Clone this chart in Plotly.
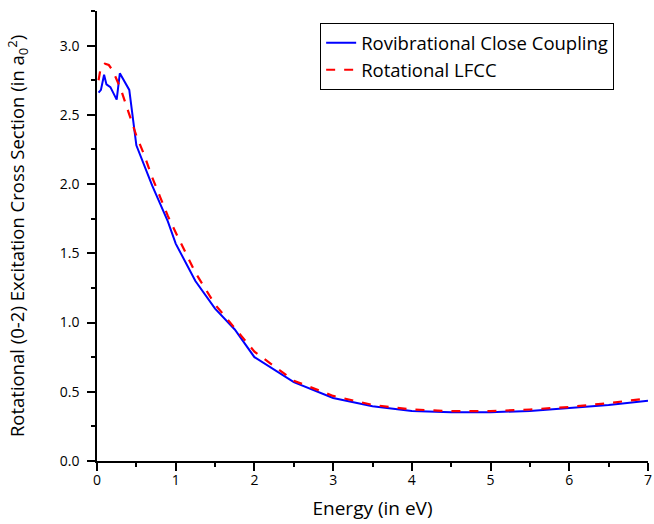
import plotly.graph_objects as go

# Rovibrational close coupling (blue solid)
cc_energy = [0.02, 0.05, 0.09, 0.12, 0.17, 0.25, 0.29, 0.41, 0.5, 0.6, 0.7, 0.8, 0.9, 1.0,
             1.25, 1.5, 1.75, 2.0, 2.5, 3.0, 3.5, 4.0, 4.5, 5.0, 5.5, 6.0, 6.5, 7.0]
cc_sigma = [2.66, 2.68, 2.79, 2.72, 2.70, 2.61, 2.80, 2.68, 2.28, 2.13, 1.99, 1.86, 1.73, 1.57,
            1.30, 1.10, 0.95, 0.75, 0.57, 0.455, 0.395, 0.362, 0.352, 0.352, 0.362, 0.382, 0.405, 0.435]

# Rotational LFCC (red dashed)
lfcc_energy = [0.02, 0.05, 0.1, 0.15, 0.2, 0.25, 0.3, 0.4, 0.5, 0.6, 0.7, 0.8, 0.9, 1.0,
               1.25, 1.5, 1.75, 2.0, 2.5, 3.0, 3.5, 4.0, 4.5, 5.0, 5.5, 6.0, 6.5, 7.0]
lfcc_sigma = [2.75, 2.85, 2.87, 2.86, 2.82, 2.76, 2.69, 2.52, 2.35, 2.21, 2.05, 1.91, 1.77, 1.65,
              1.36, 1.13, 0.96, 0.79, 0.58, 0.47, 0.405, 0.372, 0.36, 0.36, 0.372, 0.39, 0.418, 0.452]

FONT = "Open Sans"

fig = go.Figure()
fig.add_trace(go.Scatter(x=cc_energy, y=cc_sigma, mode="lines",
                         name="Rovibrational Close Coupling",
                         line=dict(color="#0000ff", width=2)))
fig.add_trace(go.Scatter(x=lfcc_energy, y=lfcc_sigma, mode="lines",
                         name="Rotational LFCC",
                         line=dict(color="#ff0000", width=2.2, dash="dash")))

axis_common = dict(showline=True, linecolor="black", linewidth=1.5, ticks="outside",
                   tickcolor="black", ticklen=8, tickwidth=1.5, showgrid=False, zeroline=False,
                   tickfont=dict(family=FONT, size=14, color="black"), mirror=False,
                   automargin=False, ticklabeloverflow="allow")

fig.update_layout(
    width=654, height=524,
    margin=dict(l=97, r=6, t=11, b=63),
    paper_bgcolor="white", plot_bgcolor="white",
    font=dict(family=FONT, color="black"),
    xaxis=dict(range=[0, 7], dtick=1, tick0=0, ticklabelstandoff=-3,
               minor=dict(dtick=0.5, ticks="outside", ticklen=4, tickcolor="black", tickwidth=1.5),
               title=dict(text="Energy (in eV)", font=dict(family=FONT, size=19), standoff=14),
               **axis_common),
    yaxis=dict(range=[0, 3.25], dtick=0.5, tick0=0, tickformat=".1f", ticklabelstandoff=5,
               minor=dict(dtick=0.25, ticks="outside", ticklen=4, tickcolor="black", tickwidth=1.5),
               title=dict(text="Rotational (0-2) Excitation Cross Section (in a<sub>0</sub><sup>2</sup>)",
                          font=dict(family=FONT, size=18.5), standoff=30),
               **axis_common),
    legend=dict(x=0.405, y=0.973, xanchor="left", yanchor="top",
                bordercolor="black", borderwidth=1, bgcolor="white",
                font=dict(family=FONT, size=18.5), tracegroupgap=0),
    showlegend=True,
)

# Remove the browser's default 8px body margin so the figure fills the window exactly.
fig.write_html("out.html", config={"displayModeBar": False},
               post_script="document.body.style.margin='0';document.body.style.overflow='hidden';")
